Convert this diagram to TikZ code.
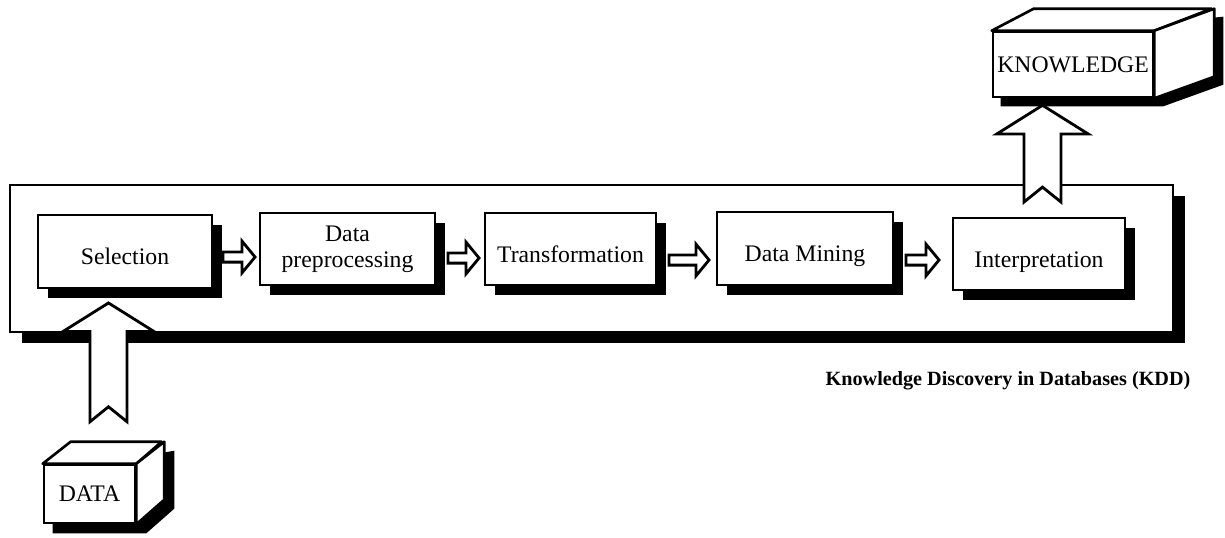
\documentclass[tikz,border=0pt]{standalone}
\usepackage{fontspec}
\setmainfont{Liberation Serif}
\usetikzlibrary{calc,shadows,backgrounds}

% hollow horizontal block arrow from tail #1 to tip #2
\newcommand{\hollowarrow}[2]{%
  \draw[blockarrow] let \p1=(#1), \p2=(#2) in
    (\x1,\y1+2.9pt) -- (\x2-7.4pt,\y1+2.9pt) -- (\x2-7.4pt,\y1+9pt) -- (\x2,\y1)
    -- (\x2-7.4pt,\y1-9pt) -- (\x2-7.4pt,\y1-2.9pt) -- (\x1,\y1-2.9pt) -- cycle;}

% hollow upward block arrow with a notched tail, from tail #1 up to tip #2
\newcommand{\hollowuparrow}[2]{%
  \draw[blockarrow] let \p1=(#1), \p2=(#2) in
    (\x1-10.5pt,\y1) -- (\x1-10.5pt,\y2-16.3pt) -- (\x1-26pt,\y2-16.3pt) -- (\x1,\y2)
    -- (\x1+26pt,\y2-16.3pt) -- (\x1+10.5pt,\y2-16.3pt) -- (\x1+10.5pt,\y1)
    -- (\x1,\y1+8.5pt) -- cycle;}

\begin{document}
\begin{tikzpicture}[x=0.02cm, y=-0.02cm,
  stage/.style={draw, line width=1.1pt, fill=white, inner sep=0pt, align=center,
    font=\fontsize{13.5}{15}\selectfont,
    drop shadow={shadow xshift=5.7pt, shadow yshift=-5.7pt, opacity=1, fill=black}},
  oneline/.style={text height=15pt, text depth=0pt},
  frame/.style={draw, line width=1.1pt, fill=white, inner sep=0pt,
    drop shadow={shadow xshift=6.8pt, shadow yshift=-6.3pt, opacity=1, fill=black}},
  blockarrow/.style={draw, fill=white, line width=1.6pt, line join=miter},
  cubeface/.style={draw, line width=1.5pt, fill=white, inner sep=0pt,
    font=\fontsize{13.5}{15}\selectfont},
  cubeline/.style={draw, line width=1.5pt, fill=white, line join=round}]

\useasboundingbox (0,0) rectangle (1225,538);

% outer KDD frame
\node[frame, minimum width=23.26cm, minimum height=2.94cm] (kdd) at (591.5,258.5) {};

% process stages
\node[stage, oneline, minimum width=3.48cm, minimum height=1.46cm] (sel)    at (125,251.5)  {Selection};
\node[stage, minimum width=3.50cm, minimum height=1.44cm] (dpp)    at (347.5,249)  {Data\\preprocessing};
\node[stage, oneline, minimum width=3.42cm, minimum height=1.44cm] (trans)  at (570.5,249)  {Transformation};
\node[stage, oneline, minimum width=3.52cm, minimum height=1.46cm] (dm)     at (805,248.5)  {Data Mining};
\node[stage, oneline, minimum width=3.44cm, minimum height=1.44cm] (interp) at (1039,254)   {Interpretation};

% arrows between stages
\coordinate (t1) at ([shift={(10,5.5)}]sel.east);
\coordinate (h1) at ([shift={(-4,0)}]dpp.west |- t1);
\coordinate (t2) at ([shift={(12,9)}]dpp.east);
\coordinate (h2) at ([shift={(-5,0)}]trans.west |- t2);
\coordinate (t3) at ([shift={(12,11)}]trans.east);
\coordinate (h3) at ([shift={(-7,0)}]dm.west |- t3);
\coordinate (t4) at ([shift={(12,11.5)}]dm.east);
\coordinate (h4) at ([shift={(-13,0)}]interp.west |- t4);
\hollowarrow{t1}{h1}
\hollowarrow{t2}{h2}
\hollowarrow{t3}{h3}
\hollowarrow{t4}{h4}

% DATA cube
\node[cubeface, minimum width=1.82cm, minimum height=1.16cm] (data) at (89.5,494) {DATA};
\draw[cubeline] (data.north west) -- ++(28,-22) -- ++(91,0) -- (data.north east) -- cycle;
\draw[cubeline] (data.north east) -- ++(28,-22) -- ++(0,58) -- (data.south east) -- cycle;

% KNOWLEDGE cube
\node[cubeface, minimum width=3.2cm, minimum height=1.3cm] (know) at (1073,64.5) {KNOWLEDGE};
\draw[cubeline] (know.north west) -- ++(42,-22) -- ++(178,0) -- (know.north east) -- cycle;
\draw[cubeline] (know.north east) -- ++(60,-22) -- ++(0,68) -- (know.south east) -- cycle;

% cube shadows
\begin{scope}[on background layer]
  \fill[black] ([shift={(10,9)}]data.south west) -- ([shift={(10,9)}]data.north west)
    -- ($(data.north east)+(38,-13)$) -- ($(data.north east)+(38,45)$)
    -- ([shift={(10,9)}]data.south east) -- cycle;
  \fill[black] ([shift={(9,8)}]know.south west) -- ([shift={(9,8)}]know.north west)
    -- ($(know.north east)+(69,-14)$) -- ($(know.north east)+(69,54)$)
    -- ([shift={(9,8)}]know.south east) -- cycle;
\end{scope}

% input and output arrows
\coordinate (din) at ([shift={(19,-42)}]data.north);
\coordinate (dtip) at ([shift={(0,14)}]din |- sel.south);
\hollowuparrow{din}{dtip}
\coordinate (kin) at ([shift={(3.5,-15)}]interp.north);
\coordinate (ktip) at ([shift={(0,7)}]kin |- know.south);
\hollowuparrow{kin}{ktip}

% caption
\node[font=\fontsize{11.5}{13}\selectfont\bfseries] (cap) at (1008,381)
  {Knowledge Discovery in Databases (KDD)};
\end{tikzpicture}
\end{document}
